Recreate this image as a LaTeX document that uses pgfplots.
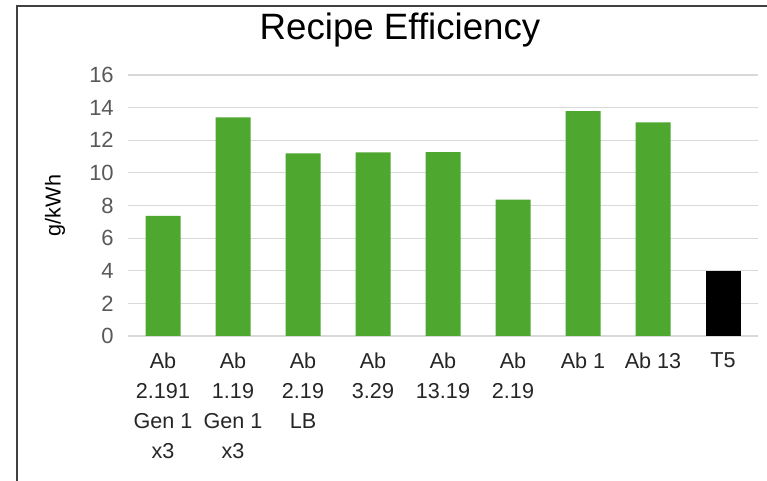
\documentclass[border=0pt]{standalone}
\usepackage{pgfplots}
\pgfplotsset{compat=1.18}
\usepackage{fontspec}
\setmainfont{Liberation Sans}

\definecolor{bargreen}{RGB}{78,167,46}
\definecolor{tickgray}{RGB}{89,89,89}
\definecolor{gridgray}{RGB}{217,217,217}
\definecolor{framegray}{RGB}{64,64,64}

\begin{document}
\begin{tikzpicture}
  % canvas = 767 x 481 px, 1 px = 0.75pt
  \useasboundingbox (0,0) rectangle (575.25pt,360.75pt);
  \fill[white] (0,0) rectangle (575.25pt,360.75pt);
  \draw[framegray, line width=1.5pt] (12.75pt,-5pt) -- (12.75pt,356.25pt) -- (590pt,356.25pt);

  \node[anchor=base, font=\fontsize{27.5}{32}\selectfont] at (300pt,330.75pt) {Recipe Efficiency};

  \begin{axis}[
      at={(96pt,108.75pt)}, anchor=south west,
      scale only axis,
      width=472.5pt, height=195.75pt,
      ybar, bar width=26.25pt,
      xmin=-0.5, xmax=8.5,
      ymin=0, ymax=16,
      ytick={0,2,...,16},
      xtick={0,...,8},
      xticklabels={{Ab\\2.191\\Gen 1\\x3},{Ab\\1.19\\Gen 1\\x3},{Ab\\2.19\\LB},{Ab\\3.29},{Ab\\13.19},{Ab\\2.19},{Ab 1},{Ab 13},{T5}},
      axis line style={draw=none},
      major tick length=0pt,
      ymajorgrids,
      grid style={gridgray, line width=0.9pt},
      xticklabel style={align=center, font=\fontsize{16.2}{22.5}\selectfont, text=black!85, inner sep=0pt, yshift=-12.5pt},
      yticklabel style={font=\fontsize{16.5}{18}\selectfont, text=tickgray, inner sep=0pt, xshift=-10.5pt},
      ylabel={g/kWh},
      every axis y label/.style={at={(axis description cs:0,0.5)}, rotate=90, anchor=center, yshift=54.75pt, font=\fontsize{16.2}{18}\selectfont, text=black},
      /pgf/number format/assume math mode=true,
      clip=false,
    ]
    \addplot[fill=bargreen, draw=none, bar shift=0pt] coordinates {
      (0,7.37) (1,13.4) (2,11.2) (3,11.25) (4,11.27) (5,8.36) (6,13.78) (7,13.1)
    };
    \addplot[fill=black, draw=none, bar shift=0pt] coordinates {
      (8,4.0)
    };
  \end{axis}
\end{tikzpicture}
\end{document}
